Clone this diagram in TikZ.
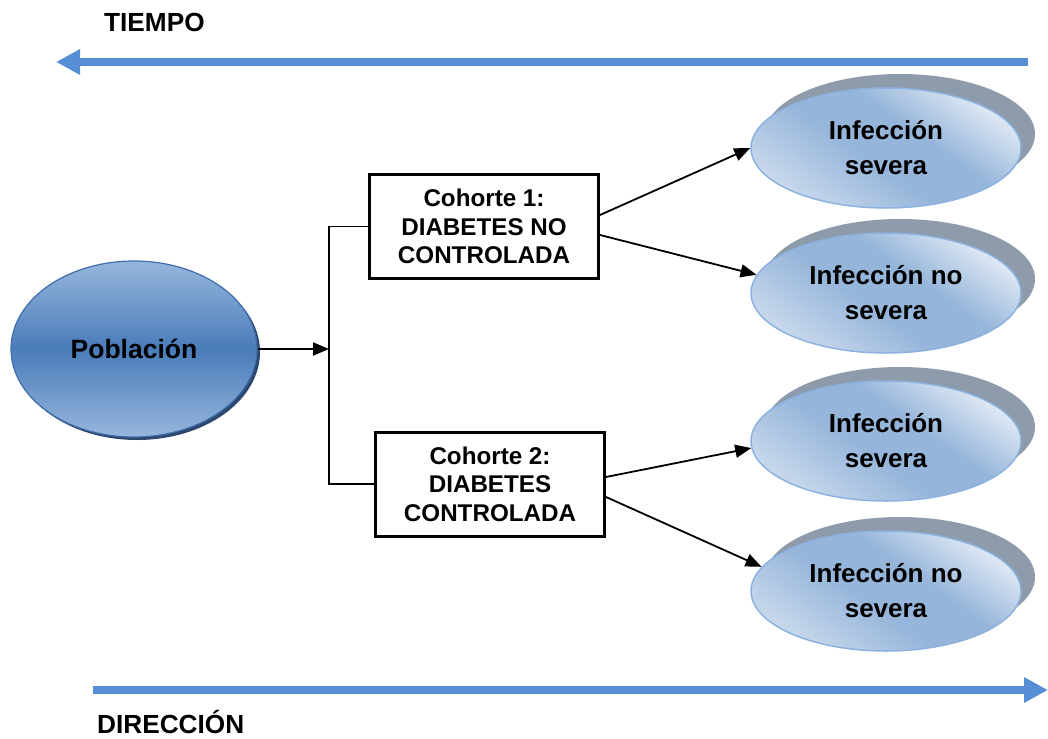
\documentclass[tikz,border=0pt]{standalone}
\usepackage{fontspec}
\setmainfont{Liberation Sans}
\usetikzlibrary{arrows.meta,shapes.geometric}
\definecolor{arrowblue}{RGB}{85,142,213}
\definecolor{popL}{RGB}{150,182,220}
\definecolor{popM}{RGB}{74,124,186}
\definecolor{popEdge}{RGB}{65,110,170}
\definecolor{popShadow}{RGB}{45,72,110}
\definecolor{outL}{RGB}{222,232,244}
\definecolor{outL2}{RGB}{200,216,236}
\definecolor{outM}{RGB}{150,181,218}
\definecolor{outEdge}{RGB}{140,178,224}
\definecolor{outShadow}{RGB}{141,155,170}
\pgfdeclareverticalshading{popshade}{100bp}{color(0bp)=(popL); color(25bp)=(popL); color(50bp)=(popM); color(75bp)=(popL); color(100bp)=(popL)}
\pgfdeclarehorizontalshading{outshade}{100bp}{color(0bp)=(outL2); color(25bp)=(outL2); color(45bp)=(outM); color(58bp)=(outM); color(75bp)=(outL); color(100bp)=(outL)}
\tikzset{
  popnode/.style={ellipse, minimum width=246pt, minimum height=176pt, inner sep=0pt, draw=popEdge, line width=1.2pt, shading=popshade, font={\fontsize{26.5}{30}\selectfont\bfseries}},
  popshadow/.style={ellipse, minimum width=246pt, minimum height=176pt, inner sep=0pt, fill=popShadow, draw=none},
  outnode/.style={ellipse, minimum width=270pt, minimum height=120pt, inner sep=0pt, draw=outEdge, line width=1.5pt, shading=outshade, shading angle=55, align=center, font={\fontsize{26}{35}\selectfont\bfseries}},
  outshadow/.style={ellipse, minimum width=270pt, minimum height=120pt, inner sep=0pt, fill=outShadow, draw=none},
  cohort/.style={draw, line width=3pt, minimum width=229pt, minimum height=104pt, inner sep=0pt, align=center, font={\fontsize{24.2}{28.5}\selectfont\bfseries}},
  conn/.style={line width=1.8pt, -{Triangle[length=16pt,width=13pt]}},
  bracket/.style={line width=1.6pt},
  timearrow/.style={draw=arrowblue, line width=8pt, -{Triangle[length=24pt,width=24pt]}},
  lab/.style={inner sep=0pt, anchor=west, font={\fontsize{26.2}{30}\selectfont\bfseries}}
}
\begin{document}
\begin{tikzpicture}[x=1pt,y=-1pt]
\useasboundingbox (0,0) rectangle (1048,738);
% time labels and arrows
\node[lab] (tl) at (104,22) {TIEMPO};
\coordinate (t1) at (1028,62);
\coordinate (t0) at (56,62);
\draw[timearrow] (t1) -- (t0);
\coordinate (d0) at (93,690);
\coordinate (d1) at (1048,690);
\draw[timearrow] (d0) -- (d1);
\node[lab] (dl) at (97,722) {DIRECCIÓN};
% population
\node[popshadow] (ps) at (137,352) {};
\node[popnode] (p) at (134,349) {Población};
% cohorts
\node[cohort] (c1) at (484,226.5) {Cohorte 1:\\DIABETES NO\\CONTROLADA};
\node[cohort] (c2) at (490,484) {Cohorte 2:\\DIABETES\\CONTROLADA};
% bracket
\coordinate (bj) at (329,349);
\draw[bracket] (c1.west) -- ++(-39,0) |- (c2.west);
\draw[conn] (p.east) -- (bj);
% outcomes
\node[outshadow] (s1) at (900,134) {};
\node[outnode] (o1) at (886,148) {Infección\\severa};
\node[outshadow] (s2) at (900,279) {};
\node[outnode] (o2) at (886,293) {Infección no\\severa};
\node[outshadow] (s3) at (900,427) {};
\node[outnode] (o3) at (886,441) {Infección\\severa};
\node[outshadow] (s4) at (900,577) {};
\node[outnode] (o4) at (886,591) {Infección no\\severa};
% connectors
\draw[conn] ([yshift=11.5pt]c1.east) -- (o1.west);
\draw[conn] ([yshift=-8.5pt]c1.east) -- (o2.172);
\draw[conn] ([yshift=7pt]c2.east) -- (o3.183);
\draw[conn] ([yshift=-13pt]c2.east) -- (o4.169);
\end{tikzpicture}
\end{document}
